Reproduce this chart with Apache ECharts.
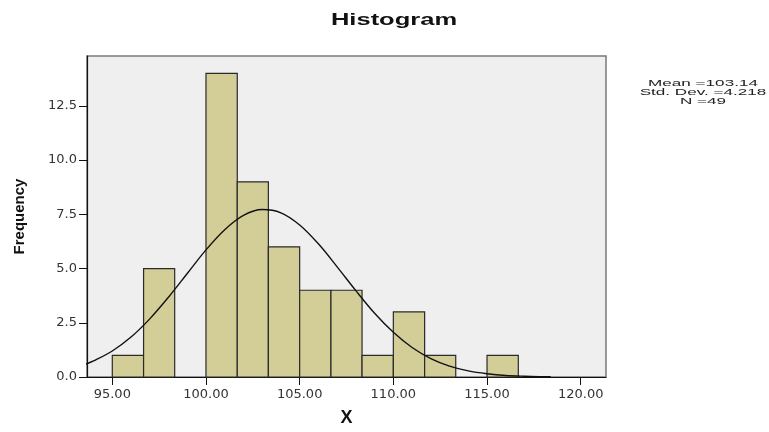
<!DOCTYPE html>
<html>
<head>
<meta charset="utf-8">
<script src="https://cdn.jsdelivr.net/npm/echarts@6/dist/echarts.min.js"></script>
<style>html,body{margin:0;padding:0;background:#fff}#c{width:769px;height:432px}</style>
</head>
<body>
<div id="c"></div>
<script>
// Histogram bins (X), counts
const binStart = [95.00, 96.67, 98.33, 100.00, 101.67, 103.33, 105.00, 106.67, 108.33, 110.00, 111.67, 113.33, 115.00];
const binEnd   = [96.67, 98.33, 100.00, 101.67, 103.33, 105.00, 106.67, 108.33, 110.00, 111.67, 113.33, 115.00, 116.67];
const counts   = [1, 5, 0, 14, 9, 6, 4, 4, 1, 3, 1, 0, 1];
// Normal curve points
const curveX = [93.6, 94, 95, 96, 97, 98, 99, 100, 101, 102, 103, 104, 105, 106, 107, 108, 109, 110, 111, 112, 113, 114, 115, 116, 117, 118, 118.4];
const curveY = [0.60, 0.74, 1.20, 1.84, 2.68, 3.68, 4.77, 5.86, 6.79, 7.45, 7.72, 7.57, 7.01, 6.14, 5.08, 3.98, 2.94, 2.06, 1.36, 0.85, 0.50, 0.28, 0.15, 0.07, 0.035, 0.016, 0.012];
const xTicks = [95, 100, 105, 110, 115, 120];
const yTicks = [0, 2.5, 5, 7.5, 10, 12.5];
const statsLines = ['Mean =103.14', 'Std. Dev. =4.218', 'N =49'];

const chart = echarts.init(document.getElementById('c'), null, {renderer: 'canvas'});
const histData = binStart.map((s, i) => [s, binEnd[i], counts[i]]);
const curveData = curveX.map((x, i) => [x, curveY[i]]);

const option = {
  backgroundColor: '#ffffff',
  animation: false,
  grid: {left: 87, right: 163, top: 56, bottom: 48, containLabel: false,
         show: true, backgroundColor: '#efefef', borderColor: '#7a7a7a', borderWidth: 1.5},
  xAxis: {
    type: 'value', min: 93.65, max: 121.35,
    name: 'X', nameLocation: 'middle', nameGap: 32,
    nameTextStyle: {fontFamily: 'Liberation Sans', fontWeight: 'bold', fontSize: 18, color: '#111'},
    axisLine: {show: true, lineStyle: {color: '#111', width: 1.2}},
    axisTick: {show: true, length: 8, customValues: xTicks, lineStyle: {color: '#111'}},
    axisLabel: {customValues: xTicks, margin: 11, fontFamily: 'DejaVu Sans', fontSize: 13, color: '#333',
                formatter: v => v.toFixed(2)},
    splitLine: {show: false}
  },
  yAxis: {
    type: 'value', min: 0, max: 14.8,
    name: 'Frequency', nameLocation: 'middle', nameGap: 60, nameRotate: 90,
    nameTextStyle: {fontFamily: 'Liberation Sans', fontWeight: 'bold', fontSize: 15, color: '#111'},
    axisLine: {show: true, lineStyle: {color: '#111', width: 1.2}},
    axisTick: {show: true, length: 8, customValues: yTicks, lineStyle: {color: '#111'}},
    axisLabel: {customValues: yTicks, margin: 10, fontFamily: 'DejaVu Sans', fontSize: 13, color: '#333',
                formatter: v => v.toFixed(1)},
    splitLine: {show: false}
  },
  series: [
    {
      type: 'custom',
      data: histData,
      encode: {x: [0, 1], y: 2},
      renderItem: function (params, api) {
        const c = api.value(2);
        if (!c) return null;
        const p0 = api.coord([api.value(0), c]);
        const p1 = api.coord([api.value(1), 0]);
        return {type: 'rect',
          shape: {x: p0[0], y: p0[1], width: p1[0] - p0[0], height: p1[1] - p0[1]},
          style: {fill: '#d3ce97', stroke: '#2a2a2a', lineWidth: 1.2}};
      },
      z: 2
    },
    {
      type: 'line', data: curveData, smooth: 0.35, showSymbol: false,
      lineStyle: {color: '#111', width: 1.4}, z: 3
    }
  ],
  graphic: [
    {type: 'text', x: 394, y: 20, scaleX: 1.5,
     style: {text: 'Histogram', fontFamily: 'Liberation Sans', fontWeight: 'bold', fontSize: 17,
             fill: '#111', align: 'center', verticalAlign: 'middle'}}
  ].concat(statsLines.map((t, i) => ({
     type: 'text', x: 703, y: 83 + i * 9, scaleX: 1.8,
     style: {text: t, fontFamily: 'Liberation Sans', fontSize: 9.5, fill: '#222',
             align: 'center', verticalAlign: 'middle'}
  })))
};
chart.setOption(option);
</script>
</body>
</html>
